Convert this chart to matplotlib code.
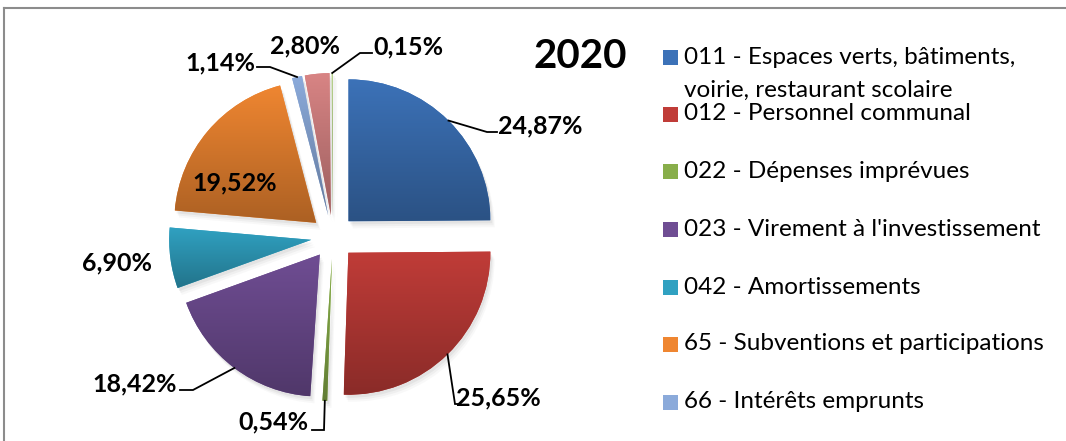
import numpy as np
import matplotlib
matplotlib.use("Agg")
import matplotlib.pyplot as plt
from matplotlib.patches import Wedge, Rectangle
from matplotlib.colors import to_rgb

plt.rcParams['font.family'] = ['Lato', 'DejaVu Sans']

# data
shares = [24.87, 25.65, 0.54, 18.42, 6.90, 19.52, 1.14, 2.80, 0.15]
colors = ['#3C72B8', '#C03C38', '#88AE4A', '#6F4D93', '#30A1C1',
          '#EF8631', '#8BAADA', '#D88484', '#B7D28C']
legend_labels = [
    "011 - Espaces verts, bâtiments,\nvoirie, restaurant scolaire",
    "012 - Personnel communal",
    "022 - Dépenses imprévues",
    "023 - Virement à l'investissement",
    "042 - Amortissements",
    "65 - Subventions et participations",
    "66 - Intérêts emprunts",
]
title = "2020"

# layout, in pixels from the top-left corner of the picture
W, H = 1066, 441
cx, cy = 333, 237
R = 142
label_xy = [(540, 126), (498, 398), (273, 422), (135, 384), (117, 263),
            (235, 183), (220, 63), (305, 46), (408, 47)]
# leader line: elbow point and end point (None = no leader)
leaders = [((487, 132), (497, 132)), ((455, 404), (459, 404)),
           ((324, 430), (312, 430)), ((193, 390), (180, 390)), None, None,
           ((270, 67), (257, 67)), None, ((360, 53), (372, 53))]
legend_y = [57, 114, 171, 229, 287, 344, 402]


def py(y):
    return H - y


fig = plt.figure(figsize=(W / 100, H / 100), dpi=100)
ax = fig.add_axes([0, 0, 1, 1])

# pie explode is an absolute offset here (data units = pixels)
explode = [22] * len(shares)
wedges, texts = ax.pie(shares, colors=colors, startangle=90, counterclock=False,
                       explode=explode, radius=R, center=(cx, py(cy)),
                       wedgeprops=dict(linewidth=0))

for w, c in zip(wedges, colors):
    # soft shadow
    for k, a in [(7, 0.04), (5, 0.06), (3, 0.08)]:
        sh = Wedge((w.center[0] + k * 0.6, w.center[1] - k), w.r, w.theta1, w.theta2,
                   facecolor='#606060', alpha=a, linewidth=0, zorder=0.5)
        ax.add_patch(sh)
    # vertical gradient inside the slice
    ext = w.get_path().get_extents()
    base = np.array(to_rgb(c))
    t = np.linspace(0, 1, 64)[:, None]
    grad = base * (1.0 - 0.28 * t)
    grad = np.clip(grad, 0, 1)[:, None, :]
    im = ax.imshow(grad, extent=[ext.x0, ext.x1, ext.y0, ext.y1], origin='upper',
                   aspect='auto', zorder=2, interpolation='bilinear')
    im.set_clip_path(w)

# labels and leader lines
for i, s in enumerate(shares):
    w = wedges[i]
    mid = np.deg2rad((w.theta1 + w.theta2) / 2)
    ax_x = w.center[0] + R * np.cos(mid)
    ax_y = w.center[1] + R * np.sin(mid)
    lx, ly = label_xy[i]
    ax.text(lx, py(ly), f"{s:.2f}".replace('.', ',') + "%", ha='center', va='center',
            fontsize=18, fontweight='bold', color='black', zorder=5)
    if leaders[i] is not None:
        (ex, ey), (tx, ty) = leaders[i]
        ax.plot([ax_x, ex, tx], [ax_y, py(ey), py(ty)], color='black', lw=1.3,
                zorder=4, solid_joinstyle='miter')

ax.text(580, py(56), title, ha='center', va='center', fontsize=29,
        fontweight='bold', color='black')

# legend
for lab, y, c in zip(legend_labels, legend_y, colors):
    ax.add_patch(Rectangle((663, py(y) - 7.5), 15, 15, facecolor=c, linewidth=0,
                           zorder=3))
    for j, line in enumerate(lab.split("\n")):
        ax.text(684, py(y + 33 * j), line, ha='left', va='center', fontsize=17.5,
                color='black')

# chart border
ax.plot([4, W], [py(8), py(8)], color='#8c8c8c', lw=1.5, zorder=6)
ax.plot([4, 4], [py(8), 0], color='#8c8c8c', lw=1.5, zorder=6)

ax.set_xlim(0, W)
ax.set_ylim(0, H)
ax.set_aspect('auto')
ax.axis('off')

fig.savefig("out.png", dpi=100)
